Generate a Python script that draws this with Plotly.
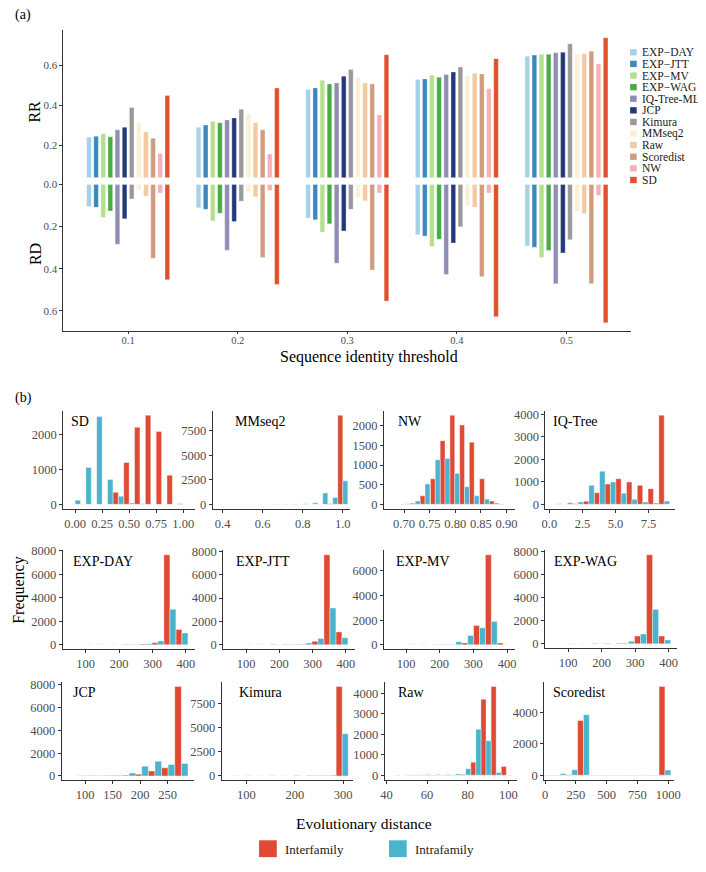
import plotly.graph_objects as go

# the page body keeps an 8 px margin, so the figure is made that much smaller
# and every pixel position below is measured in the 706x872 window
W, H = 706, 872
OFF = 8
FIG_W, FIG_H = W - OFF, H - OFF
FONT = 'Liberation Serif'
TICK_GREY = '#4d4d4d'
AXIS_GREY = '#333333'

# ---------------- panel (a) data ----------------
thresholds = ['0.1', '0.2', '0.3', '0.4', '0.5']
methods = ['EXP-DAY', 'EXP-JTT', 'EXP-MV', 'EXP-WAG', 'IQ-Tree-ML', 'JCP',
           'Kimura', 'MMseq2', 'Raw', 'Scoredist', 'NW', 'SD']
method_colors = ['#a6d1e6', '#3b88c1', '#b5df8f', '#4aac44', '#8f8db6', '#24397a',
                 '#9a9a9a', '#fbf0d6', '#f3c9a2', '#d19b7d', '#f5b1b6', '#e0502c']

rr_values = [
    [0.240, 0.290, 0.480, 0.530, 0.647],  # EXP-DAY
    [0.245, 0.302, 0.488, 0.533, 0.653],  # EXP-JTT
    [0.257, 0.320, 0.527, 0.552, 0.657],  # EXP-MV
    [0.242, 0.313, 0.508, 0.542, 0.657],  # EXP-WAG
    [0.277, 0.327, 0.513, 0.555, 0.665],  # IQ-Tree-ML
    [0.290, 0.337, 0.547, 0.568, 0.667],  # JCP
    [0.390, 0.380, 0.580, 0.593, 0.710],  # Kimura
    [0.312, 0.357, 0.540, 0.550, 0.660],  # MMseq2
    [0.268, 0.313, 0.513, 0.562, 0.660],  # Raw
    [0.235, 0.277, 0.507, 0.558, 0.672],  # Scoredist
    [0.158, 0.155, 0.352, 0.485, 0.608],  # NW
    [0.450, 0.487, 0.655, 0.635, 0.740],  # SD
]
rd_values = [
    [0.104, 0.110, 0.159, 0.239, 0.292],
    [0.108, 0.118, 0.168, 0.245, 0.298],
    [0.157, 0.173, 0.226, 0.295, 0.347],
    [0.126, 0.137, 0.187, 0.260, 0.314],
    [0.284, 0.312, 0.374, 0.427, 0.472],
    [0.163, 0.176, 0.221, 0.278, 0.325],
    [0.069, 0.079, 0.118, 0.201, 0.262],
    [0.027, 0.035, 0.061, 0.099, 0.127],
    [0.054, 0.058, 0.077, 0.108, 0.138],
    [0.350, 0.347, 0.406, 0.438, 0.472],
    [0.040, 0.028, 0.040, 0.040, 0.052],
    [0.453, 0.475, 0.554, 0.628, 0.657],
]

# ---------------- panel (b) data: bin centres and counts ----------------
sd_bins = [0.0, 0.1, 0.2, 0.3, 0.4, 0.5, 0.6, 0.7, 0.8, 0.9, 1.0]
sd_inter = [0, 0, 0, 0, 342, 1194, 2203, 2544, 2083, 833, 20]
sd_intra = [120, 1055, 2508, 711, 231, 36, 15, 0, 0, 0, 0]

mm_bins = [0.40, 0.45, 0.50, 0.55, 0.60, 0.65, 0.70, 0.75, 0.80, 0.85, 0.90, 0.95, 1.00]
mm_inter = [10, 10, 10, 10, 10, 10, 10, 10, 10, 15, 15, 60, 9100]
mm_intra = [5, 10, 10, 15, 20, 25, 30, 40, 60, 150, 1160, 700, 2400]

nw_bins = [0.684, 0.703, 0.722, 0.741, 0.761, 0.780, 0.799, 0.818, 0.837, 0.857, 0.876, 0.895]
nw_inter = [3, 8, 25, 216, 650, 1617, 2267, 2017, 1583, 650, 83, 10]
nw_intra = [5, 15, 83, 516, 1133, 1167, 783, 450, 216, 133, 33, 5]

iq_bins = [0.54, 1.355, 2.17, 2.985, 3.80, 4.615, 5.43, 6.245, 7.06, 7.875, 8.69]
iq_inter = [5, 5, 27, 133, 516, 902, 1138, 991, 844, 693, 3956]
iq_intra = [27, 71, 100, 844, 1467, 991, 489, 222, 100, 58, 147]

day_bins = [64, 100, 136, 172, 208, 244, 280, 316, 352, 388]
day_inter = [5, 10, 10, 10, 15, 20, 60, 180, 7650, 1300]
day_intra = [10, 25, 30, 30, 40, 40, 100, 330, 3030, 1000]

jtt_bins = [64, 100, 136, 172, 208, 244, 280, 316, 352, 388]
jtt_inter = [5, 10, 10, 10, 15, 20, 40, 300, 7700, 1100]
jtt_intra = [10, 25, 30, 50, 45, 50, 150, 550, 3150, 600]

mv_bins = [73, 108, 143, 178, 213, 248, 283, 318, 353, 388]
mv_inter = [5, 10, 10, 15, 20, 30, 150, 1560, 7300, 150]
mv_intra = [10, 25, 30, 30, 40, 250, 750, 1380, 1900, 30]

wag_bins = [64, 100, 136, 172, 208, 244, 280, 316, 352, 388]
wag_inter = [5, 10, 10, 15, 20, 20, 60, 680, 7750, 680]
wag_intra = [10, 30, 40, 50, 60, 80, 230, 850, 3000, 340]

jcp_bins = [84, 108, 132, 156, 180, 203, 227, 251, 275]
jcp_inter = [5, 10, 15, 30, 60, 150, 430, 714, 7850]
jcp_intra = [20, 30, 40, 50, 250, 860, 1280, 1000, 1100]

kim_bins = [73, 98, 123, 148, 173, 198, 223, 248, 273, 298]
kim_inter = [3, 5, 5, 5, 5, 5, 5, 10, 10, 9250]
kim_intra = [10, 15, 20, 30, 30, 35, 40, 40, 70, 4350]

raw_bins = [44, 49, 54, 59, 64, 69, 74, 79, 84, 89, 94, 99]
raw_inter = [3, 3, 5, 5, 5, 5, 10, 40, 640, 3720, 4350, 430]
raw_intra = [10, 15, 25, 30, 30, 40, 60, 320, 2250, 1690, 130, 10]

sc_bins = [27, 122, 216, 311, 405, 500, 595, 689, 784, 878, 973]
sc_inter = [5, 10, 30, 3480, 10, 5, 5, 5, 5, 10, 5650]
sc_intra = [20, 100, 340, 3850, 10, 5, 5, 5, 5, 10, 330]

groups = ['Interfamily', 'Intrafamily']
group_colors = ['#de4a33', '#4bb3cc']


def px_x(a):
    return (a - OFF) / FIG_W


def px_y(b):
    return 1 - (b - OFF) / FIG_H


def xdom(a, b):
    return [px_x(a), px_x(b)]


def ydom(top, bottom):
    return [px_y(bottom), px_y(top)]


fig = go.Figure()
layout = {}

# ---------------- panel (a) ----------------
bar_line = dict(color='rgba(255,255,255,0.6)', width=0.5)
for i, m in enumerate(methods):
    fig.add_trace(go.Bar(x=thresholds, y=rr_values[i], name=m, showlegend=False,
                         marker=dict(color=method_colors[i], line=bar_line),
                         xaxis='x', yaxis='y'))
    fig.add_trace(go.Bar(x=thresholds, y=rd_values[i], name=m, showlegend=False,
                         marker=dict(color=method_colors[i], line=bar_line),
                         xaxis='x2', yaxis='y2'))

axis_common = dict(showline=True, linecolor=AXIS_GREY, linewidth=1, ticks='outside',
                   ticklen=3, tickcolor=AXIS_GREY, showgrid=False, zeroline=False,
                   tickfont=dict(family=FONT, size=11, color=TICK_GREY))

layout['xaxis'] = dict(domain=xdom(59.3, 636), anchor='y', type='category',
                       range=[-0.59, 4.59], showline=False, showticklabels=False,
                       ticks='', showgrid=False, zeroline=False)
layout['yaxis'] = dict(axis_common, domain=ydom(24, 173.3), anchor='x',
                       range=[0.037, 0.78], tickvals=[0.2, 0.4, 0.6], tickformat='.1f')
layout['xaxis2'] = dict(axis_common, domain=xdom(59.3, 636), anchor='y2', type='category',
                        range=[-0.59, 4.59], ticklen=2, ticklabelstandoff=-3,
                        tickfont=dict(family=FONT, size=10.5, color=TICK_GREY))
layout['yaxis2'] = dict(axis_common, domain=ydom(173.3, 328.3), anchor='x2',
                        range=[0.696, -0.033], tickvals=[0, 0.2, 0.4, 0.6], tickformat='.1f')

# ---------------- panel (b) ----------------
panels = [
    # title, bins, inter, intra, x domain px, y domain px, x range, tickvals, tickformat, dtick, title dx
    ('SD', sd_bins, sd_inter, sd_intra, (59, 193), (409, 508), [-0.11, 1.11],
     [0, 0.25, 0.5, 0.75, 1.0], '.2f', 1000, 6),
    ('MMseq2', mm_bins, mm_inter, mm_intra, (211, 350), (409, 508), [0.351, 1.034],
     [0.4, 0.6, 0.8, 1.0], '.1f', 2500, 21),
    ('NW', nw_bins, nw_inter, nw_intra, (385, 518.5), (409, 508), [0.661, 0.9175],
     [0.70, 0.75, 0.80, 0.85, 0.90], '.2f', 500, 12),
    ('IQ-Tree', iq_bins, iq_inter, iq_intra, (549, 680.5), (409, 508), [-0.3, 9.5],
     [0, 2.5, 5, 7.5], '.1f', 1000, 6),
    ('EXP-DAY', day_bins, day_inter, day_intra, (58.5, 192.5), (550, 650), [31, 426],
     [100, 200, 300, 400], None, 2000, 8),
    ('EXP-JTT', jtt_bins, jtt_inter, jtt_intra, (221.5, 355), (550, 650), [31, 426],
     [100, 200, 300, 400], None, 2000, 11),
    ('EXP-MV', mv_bins, mv_inter, mv_intra, (385, 518.5), (550, 650), [34.8, 424.7],
     [100, 200, 300, 400], None, 2000, 10),
    ('EXP-WAG', wag_bins, wag_inter, wag_intra, (548.5, 683), (550, 649), [31, 426],
     [100, 200, 300, 400], None, 2000, 7),
    ('JCP', jcp_bins, jcp_inter, jcp_intra, (57.5, 191.7), (683, 782.5), [57.7, 297.6],
     [100, 150, 200, 250], None, 2000, 9),
    ('Kimura', kim_bins, kim_inter, kim_intra, (220, 353.3), (683, 782.5), [49, 320],
     [100, 200, 300], None, 2500, 16),
    ('Raw', raw_bins, raw_inter, raw_intra, (385.7, 520), (683, 781.7), [39.2, 104.2],
     [40, 60, 80, 100], None, 1000, 11),
    ('Scoredist', sc_bins, sc_inter, sc_intra, (547.7, 680), (683, 781.7), [-8, 1050],
     [0, 250, 500, 750, 1000], None, 2000, 7),
]

hist_line = dict(color='rgba(255,255,255,0.65)', width=0.6)
hist_axis = dict(axis_common, tickfont=dict(family=FONT, size=12.5, color=TICK_GREY))
annotations = []

for k, (title, bins, inter, intra, xd, yd, xr, tv, tf, dt, tdx) in enumerate(panels):
    n = k + 3
    bw = bins[1] - bins[0]
    for counts, col, off in ((inter, group_colors[0], -bw / 2), (intra, group_colors[1], 0)):
        fig.add_trace(go.Bar(x=bins, y=counts, width=bw / 2, offset=off, showlegend=False,
                             marker=dict(color=col, line=hist_line),
                             xaxis=f'x{n}', yaxis=f'y{n}'))
    top = max(max(inter), max(intra))
    xa = dict(hist_axis, domain=xdom(*xd), anchor=f'y{n}', range=xr, tickvals=tv)
    if tf:
        xa['tickformat'] = tf
    layout[f'xaxis{n}'] = xa
    layout[f'yaxis{n}'] = dict(hist_axis, domain=ydom(*yd), anchor=f'x{n}',
                               range=[-0.05 * top, 1.05 * top], dtick=dt)
    annotations.append(dict(text=title, xref='paper', yref='paper',
                            x=px_x(xd[0] + tdx), y=px_y(yd[0] + 11),
                            xanchor='left', yanchor='middle', showarrow=False,
                            font=dict(family=FONT, size=14, color='black')))


# ---------------- texts ----------------
def add_text(text, x, y, size, angle=0, xanchor='center', color='black'):
    annotations.append(dict(text=text, xref='paper', yref='paper', x=px_x(x), y=px_y(y),
                            xanchor=xanchor, yanchor='middle', showarrow=False,
                            textangle=angle, font=dict(family=FONT, size=size, color=color)))


add_text('(a)', 8, 9, 14, xanchor='left')
add_text('(b)', 8, 396, 14, xanchor='left')
add_text('RR', 30, 107, 16, angle=-90)
add_text('RD', 31, 251, 16, angle=-90)
add_text('Sequence identity threshold', 370, 355, 16)
add_text('Frequency', 14, 590, 16, angle=-90)
add_text('Evolutionary distance', 365, 826, 15.5)

# legend for panel (a), drawn as keys + labels
shapes = []
for i, m in enumerate(methods):
    yc = 46.7 + i * 11.73
    shapes.append(dict(type='rect', xref='paper', yref='paper',
                       x0=px_x(635), x1=px_x(641.7), y0=px_y(yc + 3.2), y1=px_y(yc - 3.2),
                       fillcolor=method_colors[i], line=dict(width=0)))
    add_text(m.replace('-', '\u2212', 1) if m.startswith('EXP') else m,
             645, yc, 11.5, xanchor='left', color='#1a1a1a')

# legend for panel (b)
for j, (g, x0) in enumerate(zip(groups, (258, 390))):
    shapes.append(dict(type='rect', xref='paper', yref='paper',
                       x0=px_x(x0), x1=px_x(x0 + 18), y0=px_y(860), y1=px_y(843),
                       fillcolor=group_colors[j], line=dict(width=0)))
    add_text(g, x0 + 24, 852, 13, xanchor='left', color='#1a1a1a')

fig.update_layout(**layout)
fig.update_layout(
    width=FIG_W, height=FIG_H, margin=dict(l=0, r=0, t=0, b=0),
    paper_bgcolor='white', plot_bgcolor='white',
    barmode='group', bargap=0.22, bargroupgap=0.35,
    showlegend=False, annotations=annotations, shapes=shapes,
    font=dict(family=FONT),
)

fig.write_html('out.html')
